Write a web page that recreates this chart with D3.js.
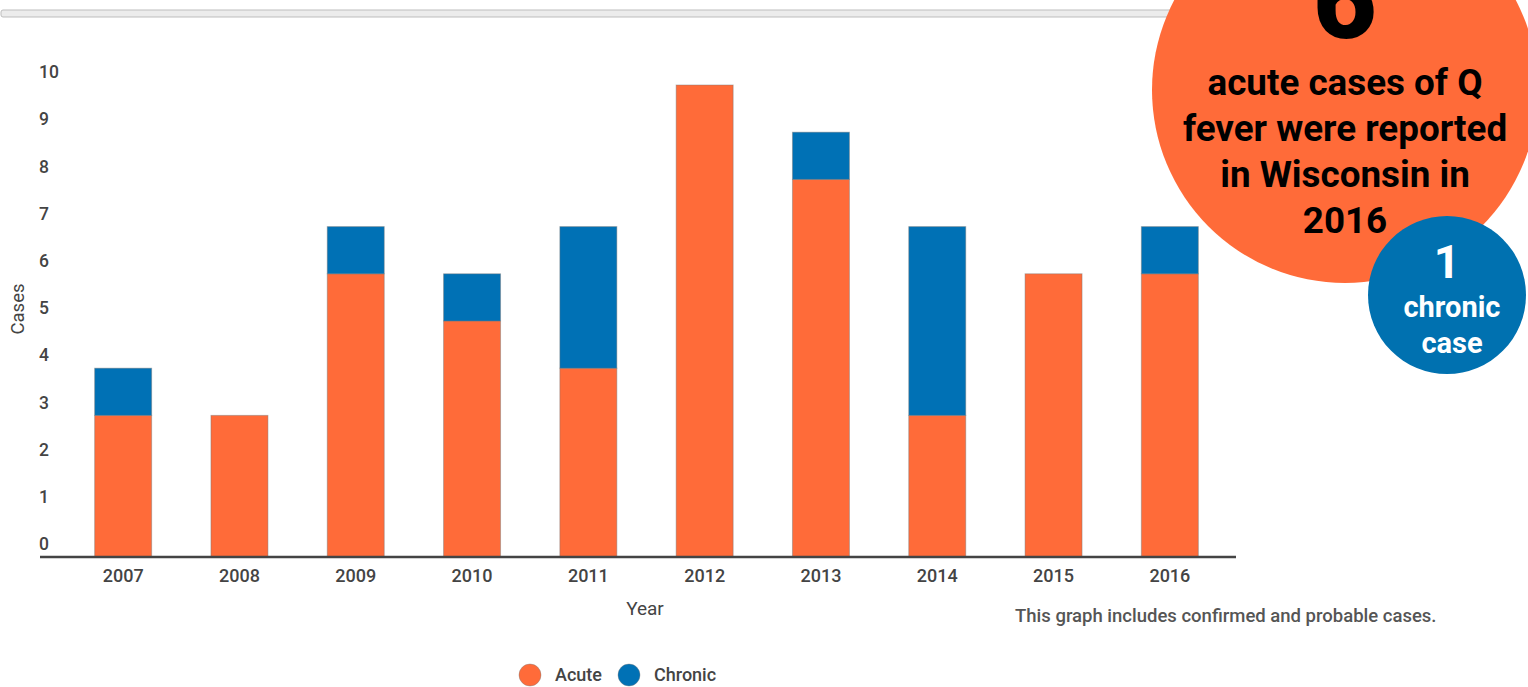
<!DOCTYPE html>
<html><head><meta charset="utf-8">
<script src="https://cdn.jsdelivr.net/npm/d3@7"></script>
<style>body{margin:0;background:#fff;overflow:hidden}svg{display:block;font-family:Roboto,"Open Sans",sans-serif}</style>
</head><body><svg id="c" width="1528" height="687"></svg>
<script>
const years = ["2007","2008","2009","2010","2011","2012","2013","2014","2015","2016"];
const acute = [3,3,6,5,4,10,8,3,6,6];
const chronic = [1,0,1,1,3,0,1,4,0,1];
const yTicks = [0,1,2,3,4,5,6,7,8,9,10];
const seriesNames = ["Acute","Chronic"];
const colors = {Acute:"#ff6b39", Chronic:"#0071b5"};

const svg = d3.select("#c");
const x = d3.scaleBand().domain(years).range([65,1228]).paddingInner(0.51).paddingOuter(0.255);
const y = d3.scaleLinear().domain([0,10]).range([557,85]);

// top strip
svg.append("rect").attr("x",1).attr("y",10).attr("width",1300).attr("height",7).attr("rx",2)
  .attr("fill","#ececec").attr("stroke","#bdbdbd").attr("stroke-width",1);

const rows = years.map((yr,i)=>({year:yr, Acute:acute[i], Chronic:chronic[i]}));
const stacked = d3.stack().keys(seriesNames)(rows);
svg.append("g").selectAll("g").data(stacked).join("g")
  .attr("fill",d=>colors[d.key])
  .selectAll("rect").data(d=>d.filter(p=>p[1]>p[0])).join("rect")
  .attr("x",d=>x(d.data.year)).attr("width",x.bandwidth())
  .attr("y",d=>y(d[1])).attr("height",d=>y(d[0])-y(d[1]))
  .attr("stroke","rgba(120,120,120,0.45)").attr("stroke-width",1);

// y tick labels
svg.append("g").selectAll("text").data(yTicks).join("text")
  .attr("x",39).attr("y",d=>y(d)-13).attr("dy","0.35em")
  .attr("font-size",17.5).attr("font-weight",500).attr("fill","#444").text(d=>d);

// x axis
const xa = svg.append("g").attr("transform","translate(0,557)")
  .call(d3.axisBottom(x).tickSize(0).tickPadding(0));
xa.select(".domain").remove();
xa.selectAll("text").attr("y",19).attr("dy","0.35em").attr("font-size",18).attr("font-weight",500).attr("fill","#444").attr("font-family","Roboto,sans-serif");
svg.append("line").attr("x1",40).attr("x2",1236).attr("y1",557).attr("y2",557)
  .attr("stroke","#444").attr("stroke-width",2.5);

svg.append("text").attr("x",645).attr("y",608).attr("dy","0.35em").attr("text-anchor","middle")
  .attr("font-size",19).attr("fill","#444").text("Year");
svg.append("text").attr("transform","translate(18,309) rotate(-90)").attr("dy","0.35em").attr("text-anchor","middle")
  .attr("font-size",18.5).attr("fill","#444").text("Cases");

svg.append("text").attr("x",1015).attr("y",616).attr("dy","0.35em")
  .attr("font-size",18.5).attr("font-weight",500).attr("fill","#555")
  .text("This graph includes confirmed and probable cases.");

// legend
const lg = svg.append("g");
const legX = [530, 629];
seriesNames.forEach((s,i)=>{
  lg.append("circle").attr("cx",legX[i]).attr("cy",675).attr("r",11).attr("fill",colors[s])
    .attr("stroke","rgba(120,120,120,0.4)");
  lg.append("text").attr("x",legX[i]+25).attr("y",675).attr("dy","0.35em")
    .attr("font-size",18).attr("font-weight",500).attr("fill","#444").text(s);
});

// annotation circles
svg.append("circle").attr("cx",1345).attr("cy",90).attr("r",193).attr("fill","#ff6b39");
svg.append("text").attr("x",1345).attr("y",38).attr("text-anchor","middle")
  .attr("font-size",110).attr("font-weight",900).attr("fill","#000").text("6");
const lines = ["acute cases of Q","fever were reported","in Wisconsin in","2016"];
svg.append("g").selectAll("text").data(lines).join("text")
  .attr("x",1345).attr("y",(d,i)=>82+i*46).attr("dy","0.35em").attr("text-anchor","middle")
  .attr("font-size",36.8).attr("font-weight",700).attr("fill","#000").text(d=>d);

svg.append("circle").attr("cx",1447).attr("cy",295).attr("r",79).attr("fill","#0071b0");
const bl = [["1",262,46,1447],["chronic",307,29,1452],["case",343,29,1452]];
svg.append("g").selectAll("text").data(bl).join("text")
  .attr("x",d=>d[3]).attr("y",d=>d[1]).attr("dy","0.35em").attr("text-anchor","middle")
  .attr("font-size",d=>d[2]).attr("font-weight",700).attr("fill","#fff").text(d=>d[0]);
</script></body></html>
